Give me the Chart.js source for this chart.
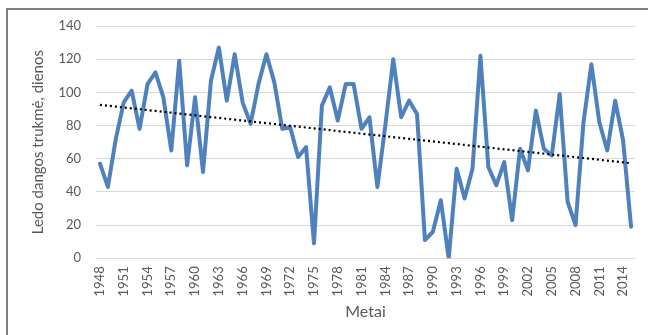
<!DOCTYPE html>
<html>
<head>
<meta charset="utf-8">
<script src="https://cdn.jsdelivr.net/npm/chart.js@4/dist/chart.umd.min.js"></script>
<style>
  html, body { margin: 0; padding: 0; background: #ffffff; }
  #wrap { position: relative; width: 648px; height: 335px; overflow: hidden; }
  #frame { position: absolute; left: 6px; top: 8px; width: 700px; height: 400px;
           border-left: 2px solid #7f7f7f; border-top: 2px solid #7f7f7f; box-sizing: border-box; }
  canvas { position: absolute; left: 0; top: 0; }
</style>
</head>
<body>
<div id="wrap">
  <div id="frame"></div>
  <canvas id="chart" width="648" height="335"></canvas>
</div>
<script>
// Ice cover duration per year, days
const years = [];
for (let y = 1948; y <= 2015; y++) years.push(String(y));

const iceDays = [
  57, 43, 72, 94, 101, 78, 105, 112, 97, 65,
  119, 56, 97, 52, 107, 127, 95, 123, 94, 81,
  105, 123, 106, 78, 79, 61, 67, 9, 92, 103,
  83, 105, 105, 78, 85, 43, 80, 120, 85, 95,
  87, 11, 16, 35, 0, 54, 36, 54, 122, 55,
  44, 58, 23, 66, 53, 89, 66, 62, 99, 34,
  20, 82, 117, 82, 65, 95, 71, 19
];

const yTicks = [0, 20, 40, 60, 80, 100, 120, 140];

// Least-squares linear trend over the series
function linearTrend(values) {
  const n = values.length;
  let sx = 0, sy = 0, sxx = 0, sxy = 0;
  values.forEach((v, i) => { sx += i; sy += v; sxx += i * i; sxy += i * v; });
  const slope = (n * sxy - sx * sy) / (n * sxx - sx * sx);
  const icept = (sy - slope * sx) / n;
  return values.map((_, i) => icept + slope * i);
}
const trend = linearTrend(iceDays);

const FONT = 'Lato, "Open Sans", sans-serif';
const GREY = '#595959';

new Chart(document.getElementById('chart'), {
  type: 'line',
  data: {
    labels: years,
    datasets: [
      {
        data: iceDays,
        borderColor: '#4F81BD',
        borderWidth: 4,
        pointRadius: 0,
        tension: 0,
        borderJoinStyle: 'round',
        borderCapStyle: 'round',
        order: 2
      },
      {
        data: trend,
        borderColor: '#000000',
        borderWidth: 2.2,
        borderDash: [2, 3],
        pointRadius: 0,
        tension: 0,
        order: 1
      }
    ]
  },
  options: {
    responsive: false,
    animation: false,
    layout: { padding: { left: 0, right: 13, top: 26, bottom: 0 } },
    plugins: { legend: { display: false }, tooltip: { enabled: false } },
    scales: {
      x: {
        offset: true,
        grid: { display: false, drawTicks: false },
        border: { display: false },
        ticks: {
          autoSkip: false,
          minRotation: 90,
          maxRotation: 90,
          padding: 8,
          color: GREY,
          font: { family: FONT, size: 13 },
          callback: (v, i) => (i % 3 === 0 ? years[i] : '')
        },
        title: {
          display: true,
          text: 'Metai',
          color: GREY,
          font: { family: FONT, size: 16 },
          padding: { top: 0, bottom: 14 }
        },
        afterFit: (s) => { s.height = 76.7; s.paddingLeft = 0; s.paddingRight = 0; }
      },
      y: {
        min: 0,
        max: 140,
        afterBuildTicks: (s) => { s.ticks = yTicks.map(v => ({ value: v })); },
        grid: { color: '#D9D9D9', lineWidth: 1, drawTicks: false },
        border: { display: false },
        ticks: {
          padding: 15,
          color: GREY,
          font: { family: FONT, size: 13 }
        },
        title: {
          display: true,
          text: 'Ledo dangos trukmė, dienos',
          color: GREY,
          font: { family: FONT, size: 15 },
          padding: { top: 29, bottom: 0 }
        },
        afterFit: (s) => { s.width = 96; s.paddingTop = 0; s.paddingBottom = 0; }
      }
    }
  }
});
</script>
</body>
</html>
